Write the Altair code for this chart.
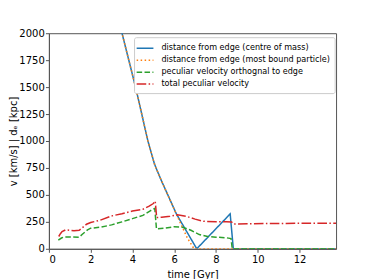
import altair as alt
import pandas as pd

# ---- data ----
names = [
    "distance from edge (centre of mass)",
    "distance from edge (most bound particle)",
    "peculiar velocity orthognal to edge",
    "total peculiar velocity",
]
colors = ["#1f77b4", "#ff7f0e", "#2ca02c", "#d62728"]
dashes = [[1, 0], [1.5, 2.5], [5.5, 2.4], [9.6, 2.4, 1.5, 2.4]]

t_com = [3.3, 3.5, 4.15, 4.74, 5.05, 5.13, 5.37, 6.11, 7.08, 8.68, 8.83, 13.75]
v_com = [2160, 2000, 1500, 1000, 790, 750, 639, 321, 0, 324, 0, 0]

t_mbp = [3.3, 3.5, 4.15, 4.74, 5.05, 5.13, 5.37, 6.11, 6.63, 6.95, 13.75]
v_mbp = [2160, 2000, 1500, 1000, 790, 750, 639, 318, 100, 0, 0]

t_orth = [0.45, 0.6, 0.7, 1.0, 1.45, 1.6, 1.85, 2.0, 2.5, 3.0, 3.5, 4.0, 4.5, 4.85,
          5.07, 5.15, 5.5, 6.0, 6.4, 6.8, 7.2, 7.6, 8.0, 8.5, 8.72, 8.78, 13.75]
v_orth = [80, 100, 108, 110, 108, 135, 176, 191, 201, 222, 250, 280, 310, 352,
          375, 185, 190, 205, 200, 172, 132, 115, 108, 102, 95, 0, 0]

t_tot = [0.47, 0.55, 0.63, 0.8, 1.0, 1.2, 1.45, 1.6, 1.8, 2.0, 2.5, 3.0, 3.5, 4.0,
         4.5, 4.8, 5.0, 5.09, 5.16, 5.4, 5.8, 6.15, 6.6, 7.0, 7.4, 8.0, 8.5, 8.75,
         8.85, 9.5, 11.0, 12.5, 13.75]
v_tot = [114, 140, 160, 176, 172, 168, 171, 195, 228, 244, 268, 305, 325, 350,
         367, 395, 420, 442, 290, 293, 302, 315, 300, 275, 255, 250, 252, 248,
         229, 232, 235, 237, 238]

series_t = [t_com, t_mbp, t_orth, t_tot]
series_v = [v_com, v_mbp, v_orth, v_tot]

rows = []
for name, ts, vs in zip(names, series_t, series_v):
    for i, (t, v) in enumerate(zip(ts, vs)):
        rows.append({"series": name, "time": t, "v": v, "i": i})
df = pd.DataFrame(rows)

FONT = "DejaVu Sans"
W, H = 287.7, 216

x_enc = alt.X("time:Q", title="time [Gyr]",
              scale=alt.Scale(domain=[0, 13.75], nice=False, zero=False),
              axis=alt.Axis(values=[0, 2, 4, 6, 8, 10, 12], format="d"))
y_enc = alt.Y("v:Q", title="v [km/s] | dₑ [kpc]",
              scale=alt.Scale(domain=[0, 2000], nice=False),
              axis=alt.Axis(values=[0, 250, 500, 750, 1000, 1250, 1500, 1750, 2000],
                            format="d", titleX=-35.5, titleY=H / 2,
                            titleBaseline="middle", titleAlign="center",
                            labelPadding=1.2))
c_enc = alt.Color("series:N", scale=alt.Scale(domain=names, range=colors),
                  legend=alt.Legend(title=None))
d_enc = alt.StrokeDash("series:N", scale=alt.Scale(domain=names, range=dashes),
                       legend=alt.Legend(title=None))

layers = []
for name in names:
    layers.append(
        alt.Chart(df)
        .transform_filter(alt.datum.series == name)
        .mark_line(clip=True, strokeWidth=1.5)
        .encode(x=x_enc, y=y_enc, color=c_enc, strokeDash=d_enc, order="i:Q")
    )

chart = (
    alt.layer(*layers)
    .properties(width=W, height=H,
                autosize=alt.AutoSizeParams(type="none"),
                padding={"left": 41, "top": 25, "right": 30, "bottom": 30})
    .configure_view(stroke="#555", strokeWidth=1)
    .configure_axis(
        grid=False, domainColor="#555", domainWidth=1, tickColor="#555",
        tickWidth=1, tickSize=3.5, labelFont=FONT, labelFontSize=10,
        labelColor="#000", titleFont=FONT, titleFontSize=10,
        titleFontWeight="normal", titleColor="#000", labelPadding=2,
    )
    .configure_axisX(titlePadding=5)
    .configure_legend(
        orient="none", legendX=85.3, legendY=4, direction="vertical",
        fillColor="white", strokeColor="#cccccc", cornerRadius=2, padding=4,
        labelFont=FONT, labelFontSize=8.1, labelColor="#000",
        symbolType="M-1.4,0L1.4,0", symbolSize=144, symbolStrokeWidth=1.5,
        rowPadding=0, labelOffset=9.4, labelLimit=300,
    )
)

chart.save("out.html", embed_options={"renderer": "svg", "actions": False})
